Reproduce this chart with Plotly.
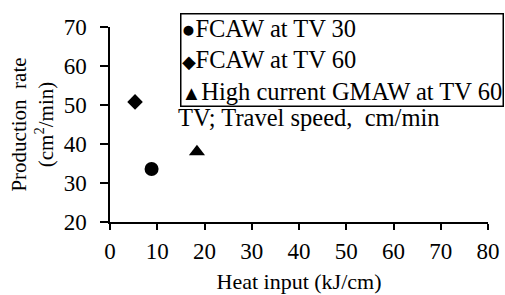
import plotly.graph_objects as go

series_names = ["FCAW at TV 30", "FCAW at TV 60", "High current GMAW at TV 60"]
legend_glyphs = ["●", "◆", "▲"]
glyph_sizes = [23, 18, 20]
heat_input = [8.8, 5.3, 18.4]
production_rate = [33.6, 50.8, 38.0]
symbols = ["circle", "diamond", "triangle-up"]
sizes = [14, 12, 14]

x_ticks = [0, 10, 20, 30, 40, 50, 60, 70, 80]
y_ticks = [20, 30, 40, 50, 60, 70]

font_family = "Liberation Serif"

L, R, T, B = 110, 17, 27, 73
W, H = 505, 295
PW, PH = W - L - R, H - T - B


def px_x(p):
    return (p - L) / PW


def px_y(p):
    return 1 - (p - T) / PH


fig = go.Figure()
for name, x, y, sym, s in zip(series_names, heat_input, production_rate, symbols, sizes):
    fig.add_trace(go.Scatter(
        x=[x], y=[y], mode="markers", name=name, showlegend=False,
        marker=dict(symbol=sym, size=s, color="black"),
    ))

legend_text = "<br>".join(
    '<span style="font-size:%dpx">%s</span>%s' % (gs, g, n)
    for g, gs, n in zip(legend_glyphs, glyph_sizes, series_names)
)

fig.update_layout(
    width=W, height=H,
    margin=dict(l=L, r=R, t=T, b=B, autoexpand=False),
    paper_bgcolor="white", plot_bgcolor="white",
    font=dict(family=font_family, size=22, color="black"),
    xaxis=dict(
        range=[0, 80], tickvals=x_ticks, ticks="outside", ticklen=6,
        tickwidth=1.5, tickcolor="black", showline=True, linecolor="black",
        linewidth=1.5, showgrid=False, zeroline=False, automargin=False,
        ticklabelstandoff=2,
        title=dict(text="Heat input (kJ/cm)", standoff=10,
                   font=dict(size=22, family=font_family)),
        tickfont=dict(size=23, family=font_family),
    ),
    yaxis=dict(
        range=[20, 70], tickvals=y_ticks, ticks="outside", ticklen=8,
        tickwidth=1.5, tickcolor="black", showline=True, linecolor="black",
        linewidth=1.5, showgrid=False, zeroline=False, automargin=False,
        ticklabelstandoff=9,
        title=dict(text="Production  rate<br>(cm<sup>2</sup>/min)", standoff=4,
                   font=dict(size=21, family=font_family)),
        tickfont=dict(size=23, family=font_family),
    ),
    annotations=[
        dict(
            text=legend_text, xref="paper", yref="paper",
            x=px_x(180), y=px_y(13), xanchor="left", yanchor="top",
            align="left", showarrow=False,
            font=dict(size=24.5, family=font_family),
            bordercolor="black", borderwidth=1.5, borderpad=0,
            bgcolor="white",
        ),
        dict(
            text="TV; Travel speed,  cm/min", xref="paper", yref="paper",
            x=px_x(176), y=px_y(117), xanchor="left", yanchor="middle",
            showarrow=False, font=dict(size=24.5, family=font_family),
        ),
    ],
)

fig.write_html(
    "out.html",
    config={"displayModeBar": False},
    post_script="document.body.style.margin='0';document.body.style.overflow='hidden';",
)
